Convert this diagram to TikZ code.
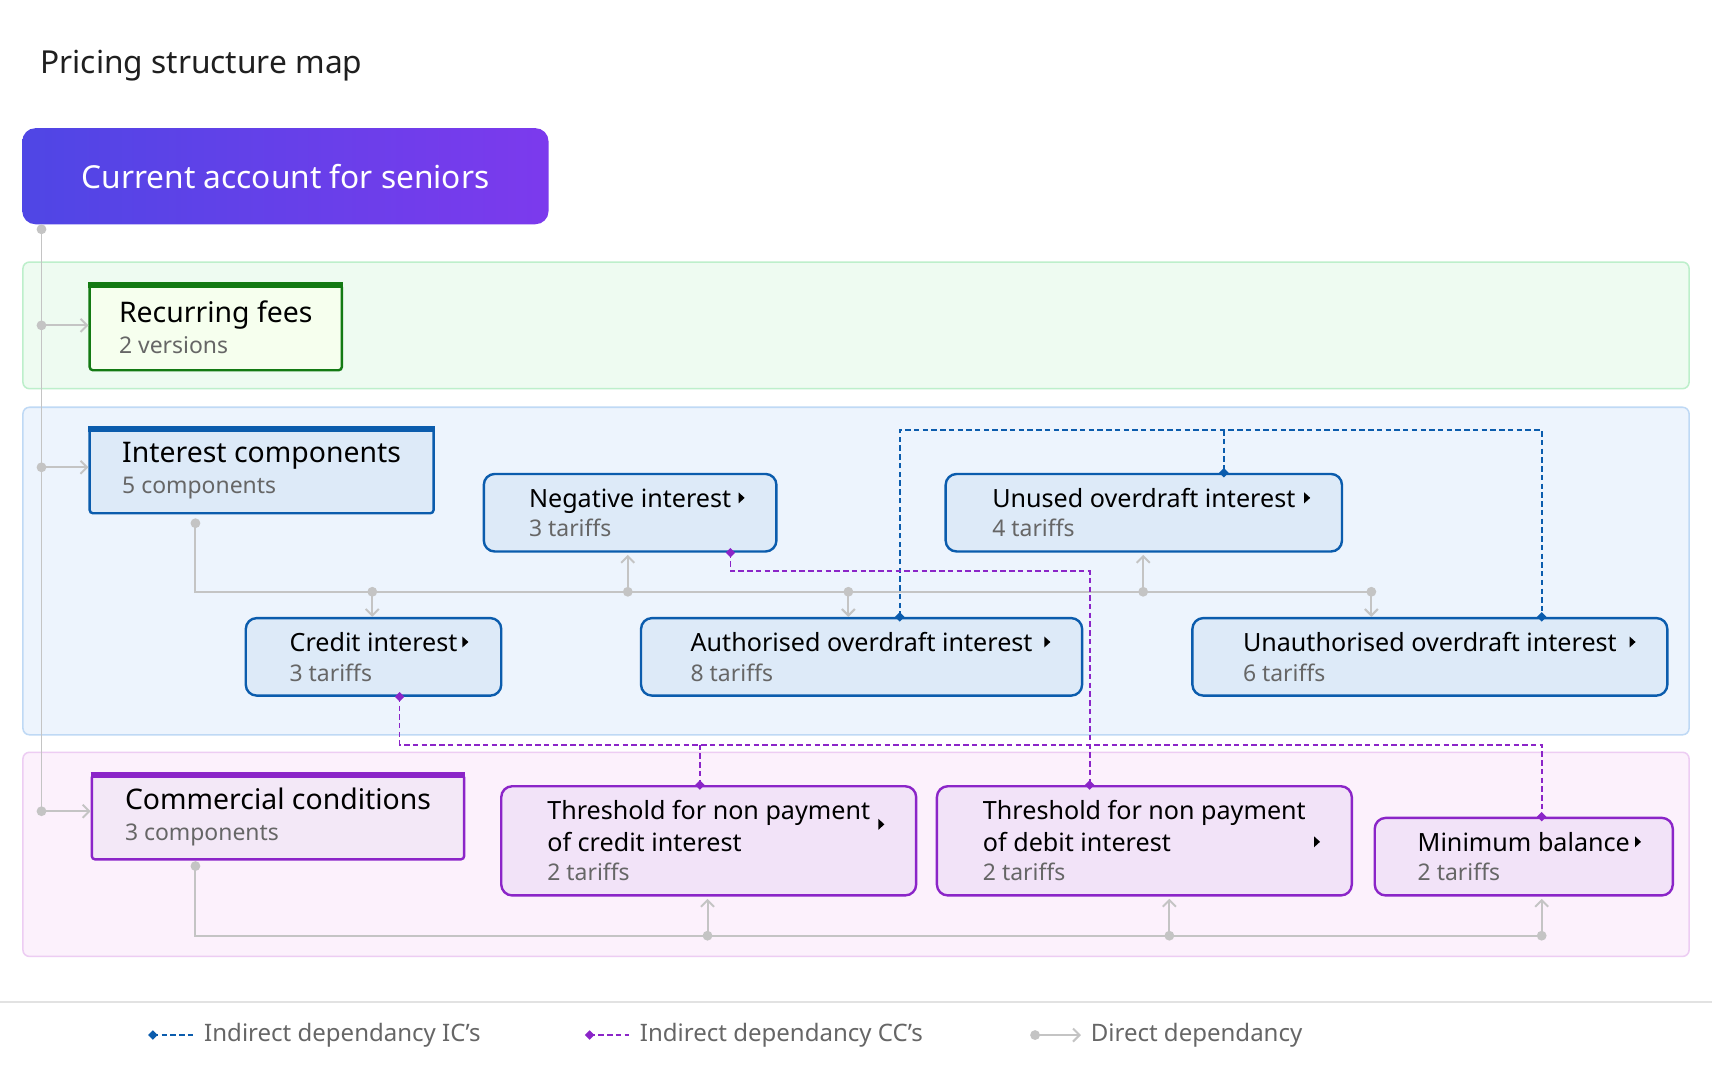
\documentclass[tikz,border=0pt]{standalone}
\usepackage{fontspec}
\setmainfont{Noto Sans}
\usetikzlibrary{arrows.meta,calc,shapes.geometric}
\definecolor{blu}{HTML}{0B5CAD}
\definecolor{bfill}{HTML}{DDEAF8}
\definecolor{pur}{HTML}{8B25C8}
\definecolor{pfill}{HTML}{F2E3F8}
\definecolor{ppar}{HTML}{F3E8F7}
\definecolor{grn}{HTML}{137A13}
\definecolor{gfill}{HTML}{F6FFEE}
\definecolor{conn}{HTML}{C4C4C4}
\definecolor{subc}{HTML}{666666}
\definecolor{gband}{HTML}{EEFBF1}\definecolor{gbandd}{HTML}{BDEFCB}
\definecolor{bband}{HTML}{EDF4FD}\definecolor{bbandd}{HTML}{BFD9F5}
\definecolor{pband}{HTML}{FCF1FC}\definecolor{pbandd}{HTML}{EDCDF3}
\definecolor{sep}{HTML}{E2E2E2}
\definecolor{g1}{HTML}{4F46E5}\definecolor{g2}{HTML}{7C3AED}
\tikzset{
 box/.style={draw, line width=1.1pt, rounded corners=5pt, anchor=north west, align=left, inner xsep=9pt, inner ysep=0pt, font=\fontsize{11.5}{14.5}\selectfont\bfseries},
 ic/.style={box, draw=blu, fill=bfill},
 cc/.style={box, draw=pur, fill=pfill},
 par/.style={draw, line width=1.1pt, rounded corners=1.5pt, anchor=north west, align=left, inner xsep=9pt, inner ysep=0pt, font=\fontsize{13}{15.5}\selectfont\bfseries},
 band/.style={line width=0.7pt, rounded corners=3pt},
 dir/.style={conn, line width=0.9pt},
 dirarr/.style={dir, -{Straight Barb[length=3pt,width=6pt]}},
 dot/.style={circle, fill=conn, inner sep=0pt, minimum size=4.5pt},
 icd/.style={blu, line width=0.8pt, dash pattern=on 2.5pt off 1.5pt},
 ccd/.style={pur, line width=0.8pt, dash pattern=on 2.5pt off 1.5pt},
 dia/.style={diamond, inner sep=0pt, minimum size=4.5pt},
}
\newcommand{\sub}[1]{\\[-1pt]{\color{subc}\mdseries\fontsize{10.5}{13}\selectfont #1}}
\begin{document}
\begin{tikzpicture}[x=0.5pt,y=-0.5pt]
\useasboundingbox (0,0) rectangle (1568,978);
\fill[white] (0,0) rectangle (1568,978);
\node[anchor=west, font=\fontsize{14.5}{17}\selectfont\bfseries, text=black!88] (title) at (30,60) {Pricing structure map};
% bands
\draw[band, fill=gband, draw=gbandd] (21,240) rectangle (1547,356);
\draw[band, fill=bband, draw=bbandd] (21,373) rectangle (1547,673);
\draw[band, fill=pband, draw=pbandd] (21,689) rectangle (1547,876);
\node[anchor=north west, rounded corners=6pt, left color=g1, right color=g2, minimum width=241pt, minimum height=44pt, text=white, font=\fontsize{14.5}{17}\selectfont] (root) at (20,117) {Current account for seniors};
% trunk
\coordinate (t0) at (38,210);
\coordinate (t1) at (38,298);
\coordinate (t2) at (38,428);
\coordinate (t3) at (38,743);
\draw[dir] (t0) -- (t3);
% parents
\node[par, draw=grn, fill=gfill, minimum width=115.5pt, minimum height=39.5pt] (rec) at (81,259) {Recurring fees\sub{2 versions}};
\draw[grn, line width=2.5pt] ([yshift=-1pt]rec.north west) -- ([yshift=-1pt]rec.north east);
\node[par, draw=blu, fill=bfill, minimum width=157.5pt, minimum height=39pt] (icp) at (81,391) {Interest components\sub{5 components}};
\draw[blu, line width=2.5pt] ([yshift=-1pt]icp.north west) -- ([yshift=-1pt]icp.north east);
\node[par, draw=pur, fill=ppar, minimum width=170.5pt, minimum height=39pt] (ccp) at (83,708) {Commercial conditions\sub{3 components}};
\draw[pur, line width=2.5pt] ([yshift=-1pt]ccp.north west) -- ([yshift=-1pt]ccp.north east);
\foreach \c in {t0,t1,t2,t3}{\node[dot] at (\c) {};}
\draw[dirarr] (t1) -- (rec.west |- t1);
\draw[dirarr] (t2) -- (icp.west |- t2);
\draw[dirarr] (t3) -- (ccp.west |- t3);
% children
\node[ic, minimum width=134pt, minimum height=35.5pt] (neg) at (442,433) {Negative interest\sub{3 tariffs}};
\node[ic, minimum width=181.5pt, minimum height=35.5pt] (unu) at (865,433) {Unused overdraft interest\sub{4 tariffs}};
\node[ic, minimum width=117pt, minimum height=35.5pt] (cre) at (224,565) {Credit interest\sub{3 tariffs}};
\node[ic, minimum width=202pt, minimum height=35.5pt] (aut) at (586,565) {Authorised overdraft interest\sub{8 tariffs}};
\node[ic, minimum width=217.5pt, minimum height=35.5pt] (una) at (1091,565) {Unauthorised overdraft interest\sub{6 tariffs}};
\node[cc, minimum width=190pt, minimum height=50pt] (thc) at (458,719) {Threshold for non payment\\of credit interest\sub{2 tariffs}};
\node[cc, minimum width=190pt, minimum height=50pt] (thd) at (857,719) {Threshold for non payment\\of debit interest\sub{2 tariffs}};
\node[cc, minimum width=136.5pt, minimum height=35.5pt] (min) at (1258,748) {Minimum balance\sub{2 tariffs}};
% triangles
\foreach \x/\y in {679/456,1197/456,426/588,959/588,1495/588,807/755,1206/771,1500/771}{
 \fill (\x-2.5,\y-5) -- (\x+3,\y) -- (\x-2.5,\y+5) -- cycle;}
% IC bus
\coordinate (b0) at (179,542);
\coordinate (bc) at (341,542);
\coordinate (bn) at (575,542);
\coordinate (ba) at (777,542);
\coordinate (bu) at (1047,542);
\coordinate (bx) at (1256,542);
\draw[dir] ([yshift=-4pt]icp.south -| b0) -- (b0) -- (bx);
\node[dot] at ([yshift=-4pt]icp.south -| b0) {};
\foreach \c in {bc,bn,ba,bu,bx}{\node[dot] at (\c) {};}
\draw[dirarr] (bc) -- (bc |- cre.north);
\draw[dirarr] (bn) -- ([yshift=-1pt]bn |- neg.south);
\draw[dirarr] (ba) -- (ba |- aut.north);
\draw[dirarr] (bu) -- ([yshift=-1pt]bu |- unu.south);
\draw[dirarr] (bx) -- (bx |- una.north);
% CC bus
\coordinate (p0) at (179,857);
\coordinate (p1) at (648,857);
\coordinate (p2) at (1071,857);
\coordinate (p3) at (1412,857);
\draw[dir] ([yshift=-2.5pt]ccp.south -| p0) -- (p0) -- (p3);
\node[dot] at ([yshift=-2.5pt]ccp.south -| p0) {};
\foreach \c in {p1,p2,p3}{\node[dot] at (\c) {};}
\draw[dirarr] (p1) -- ([yshift=-1pt]p1 |- thc.south);
\draw[dirarr] (p2) -- ([yshift=-1pt]p2 |- thd.south);
\draw[dirarr] (p3) -- ([yshift=-1pt]p3 |- min.south);
% IC indirect
\coordinate (i1) at (824,394);
\coordinate (i2) at (1412,394);
\coordinate (i3) at (1121,394);
\draw[icd] (i1 |- aut.north) -- (i1) -- (i2) -- (i2 |- una.north);
\draw[icd] (i3) -- (i3 |- unu.north);
\foreach \c in {{i1 |- aut.north},{i2 |- una.north},{i3 |- unu.north}}{\node[dia, fill=blu] at (\c) {};}
% CC indirect
\coordinate (c1) at (669,523);
\coordinate (c2) at (998,523);
\draw[ccd] (c1 |- neg.south) -- (c1) -- (c2) -- (c2 |- thd.north);
\coordinate (d1) at (366,682);
\coordinate (d2) at (1412,682);
\coordinate (d3) at (641,682);
\draw[ccd] (d1 |- cre.south) -- (d1) -- (d2) -- (d2 |- min.north);
\draw[ccd] (d3) -- (d3 |- thc.north);
\foreach \c in {{c1 |- neg.south},{c2 |- thd.north},{d1 |- cre.south},{d2 |- min.north},{d3 |- thc.north}}{\node[dia, fill=pur] at (\c) {};}
% footer
\draw[sep, line width=0.8pt] (0,918) -- (1568,918);
\coordinate (l1) at (140,948); \coordinate (l1e) at (178,948);
\draw[icd] (l1) -- (l1e); \node[dia, fill=blu] at (l1) {};
\node[anchor=west, text=subc, font=\fontsize{11}{13}\selectfont] (lt1) at (180,948) {Indirect dependancy IC’s};
\coordinate (l2) at (540,948); \coordinate (l2e) at (576,948);
\draw[ccd] (l2) -- (l2e); \node[dia, fill=pur] at (l2) {};
\node[anchor=west, text=subc, font=\fontsize{11}{13}\selectfont] (lt2) at (579,948) {Indirect dependancy CC’s};
\coordinate (l3) at (948,948); \coordinate (l3e) at (990,948);
\draw[dirarr] (l3) -- (l3e); \node[dot] at (l3) {};
\node[anchor=west, text=subc, font=\fontsize{11}{13}\selectfont] (lt3) at (992,948) {Direct dependancy};
\end{tikzpicture}
\end{document}
